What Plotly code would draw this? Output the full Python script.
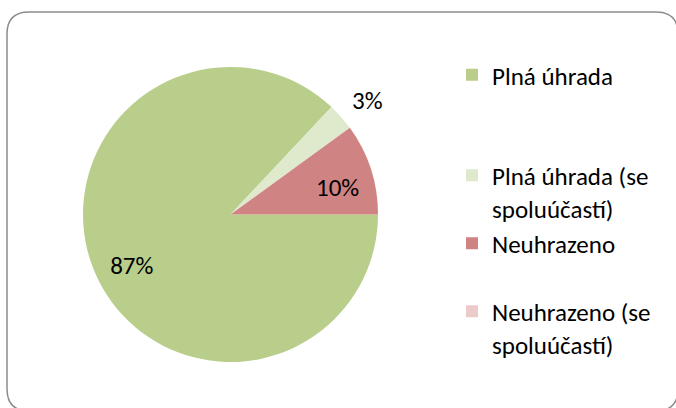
import plotly.graph_objects as go

# ---- data ----
categories = ["Plná úhrada", "Plná úhrada (se spoluúčastí)", "Neuhrazeno", "Neuhrazeno (se spoluúčastí)"]
legend_lines = [["Plná úhrada"], ["Plná úhrada (se", "spoluúčastí)"], ["Neuhrazeno"], ["Neuhrazeno (se", "spoluúčastí)"]]
values = [87, 3, 10, 0]
colors = ["#B8CE8A", "#DFEACD", "#CF8382", "#EDCACA"]
text_positions = ["inside", "outside", "inside", "none"]

W, H = 676, 408
FONT = "Carlito, Lato, Open Sans, sans-serif"
NB = "\u00a0"

# legend entries padded with blank lines so the entries spread like the original
legend_rows = [3, 2, 2, 2]
padded = []
for lines, rows in zip(legend_lines, legend_rows):
    padded.append("<br>".join(lines + [NB] * (rows - len(lines))))


def pad(size):
    return "<span style='font-size:%dpx'>%s</span>" % (size, NB)


# label templates (invisible padding nudges the labels to the original spots)
templates = [
    pad(37) + "<br>%{percent}" + NB * 11,
    "<span style='font-size:25px'>%{percent}</span><br>" + NB,
    pad(8) + "<br>%{percent}",
    "",
]
text_sizes = [25, 13, 25, 25]


def px(x):
    return x / W


def py(y):
    return 1 - y / H


fig = go.Figure(go.Pie(
    labels=padded,
    values=values,
    sort=False,
    direction="clockwise",
    rotation=90,
    marker=dict(colors=colors, line=dict(width=0)),
    texttemplate=templates,
    textposition=text_positions,
    insidetextorientation="horizontal",
    textfont=dict(family=FONT, size=text_sizes, color="#000000"),
    domain=dict(x=[px(83), px(378)], y=[py(362), py(67)]),
    hovertext=categories,
    hoverinfo="text+percent",
    showlegend=True,
))

# rounded border of the chart area
x0, y0, x1, y1, r = 7, 12, 678, 411, 22
path = (
    f"M {px(x0 + r)},{py(y0)} L {px(x1 - r)},{py(y0)} "
    f"Q {px(x1)},{py(y0)} {px(x1)},{py(y0 + r)} "
    f"L {px(x1)},{py(y1 - r)} Q {px(x1)},{py(y1)} {px(x1 - r)},{py(y1)} "
    f"L {px(x0 + r)},{py(y1)} Q {px(x0)},{py(y1)} {px(x0)},{py(y1 - r)} "
    f"L {px(x0)},{py(y0 + r)} Q {px(x0)},{py(y0)} {px(x0 + r)},{py(y0)} Z"
)

fig.update_layout(
    width=W, height=H,
    margin=dict(l=0, r=0, t=0, b=0),
    paper_bgcolor="#FFFFFF",
    plot_bgcolor="#FFFFFF",
    font=dict(family=FONT, size=25, color="#000000"),
    legend=dict(
        x=px(452), y=py(52), xanchor="left", yanchor="top",
        valign="top",
        font=dict(family=FONT, size=25, color="#000000"),
        bgcolor="rgba(0,0,0,0)",
        traceorder="normal",
    ),
    shapes=[dict(type="path", xref="paper", yref="paper", path=path,
                 line=dict(color="#8C8C8C", width=1.5), layer="below")],
)

fig.write_html("out.html",
               config={"displayModeBar": False},
               post_script="document.body.style.margin='0px';document.body.style.overflow='hidden';")
